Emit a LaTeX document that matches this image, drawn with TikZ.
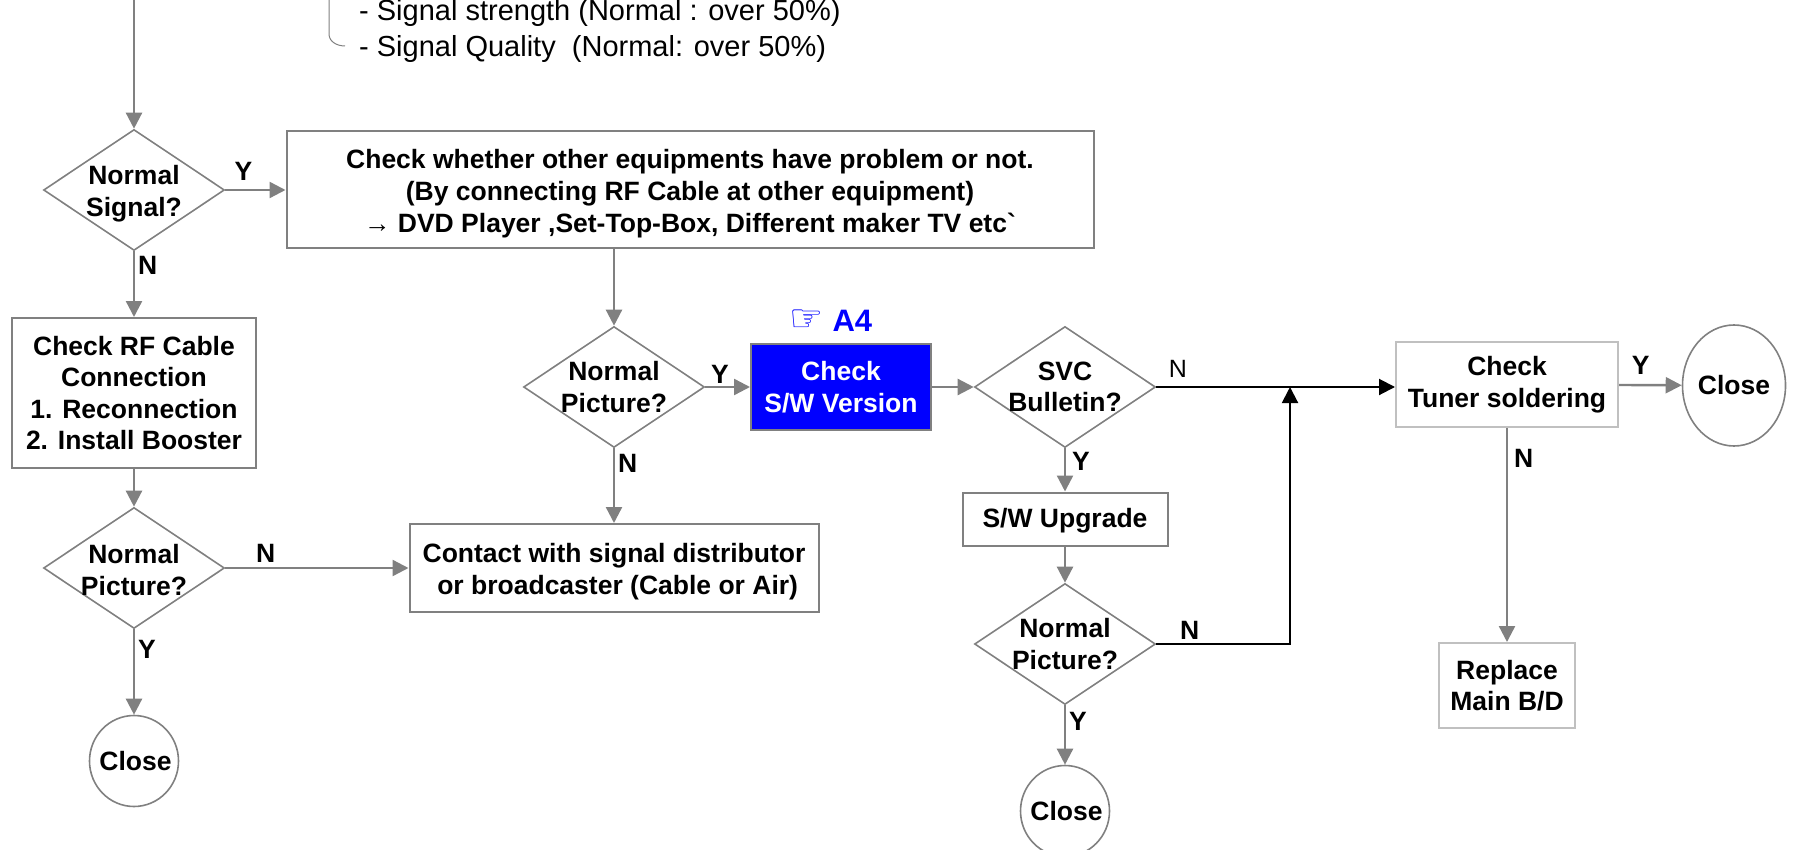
\documentclass[tikz,border=0pt]{standalone}
\usepackage{fontspec}
\setmainfont{Liberation Sans}
\newfontfamily\symfont{DejaVu Sans}
\newfontfamily\rawfont{Liberation Sans}
\usetikzlibrary{arrows.meta, positioning, shapes.geometric}
\definecolor{linegray}{HTML}{808080}
\definecolor{palegray}{HTML}{C0C0C0}
\definecolor{swblue}{HTML}{0000FF}
\newcommand{\dropby}[1]{\rule{0pt}{#1pt}}
\tikzset{>={Triangle[length=16pt,width=16pt]},x=1pt,y=1pt,
  every node/.style={font=\fontsize{26.5}{31.5}\selectfont\bfseries,align=center,inner sep=0pt},
  plaintext/.style={font=\fontsize{29}{36}\selectfont},
  flow/.style={draw=linegray,line width=2.4pt},
  blackflow/.style={draw=black,line width=2pt},
  proc/.style={rectangle,draw=linegray,line width=2pt,fill=white},
  paleproc/.style={proc,draw=palegray},
  decide/.style={diamond,draw=linegray,line width=1.6pt,minimum width=181pt,minimum height=121pt,aspect=1.5,inner sep=-10pt},
  closing/.style={ellipse,draw=linegray,line width=1.6pt,inner sep=-8pt},
  lab/.style={fill=none,inner sep=3pt}}

\begin{document}
\begin{tikzpicture}
\useasboundingbox (0,0) rectangle (1806,-850);
\node[decide] (sigdec) at (134,-190) {\dropby{26.5}Normal\\Signal?};
\node[proc, minimum width=807pt, minimum height=117pt, right of=sigdec, node distance=556pt] (equip) {\dropby{26.5}Check whether other equipments have problem or not.\\(By connecting RF Cable at other equipment)\\→ DVD Player ,Set-Top-Box, Different maker TV etc{\rawfont\bfseries `}};
\node[proc, minimum width=244pt, minimum height=150pt, below of=sigdec, node distance=203pt] (rfbox) {Check RF Cable\\Connection\\1. Reconnection\\2. Install Booster};
\node[decide, below of=rfbox, node distance=175pt] (picl) {\dropby{23}Normal\\Picture?};
\node[closing, minimum width=89pt, minimum height=91pt, below of=picl, node distance=193pt] (closel) {\kern3pt Close};
\node[proc, minimum width=409pt, minimum height=88pt, right of=picl, node distance=480pt] (contact) {\dropby{26.5}Contact with signal distributor\\\ or broadcaster (Cable or Air)};
\node[decide, above of=contact, node distance=181pt] (picm) {Normal\\Picture?};
\node[proc, fill=swblue, text=white, minimum width=180pt, minimum height=86pt, right of=picm, node distance=227pt] (swbox) {Check\\S/W Version};
\node[text=swblue, font=\fontsize{31}{36}\selectfont\bfseries, above of=swbox, xshift=-10pt, node distance=66pt] (aref) {{\symfont\fontsize{38}{36}\selectfont ☞} A4};
\node[decide, right of=swbox, node distance=224pt] (svc) {SVC\\Bulletin?};
\node[proc, minimum width=205pt, minimum height=53pt, below of=svc, node distance=132pt] (upgrade) {\dropby{23}S/W Upgrade};
\node[decide, below of=upgrade, node distance=125pt] (picr) {Normal\\Picture?};
\node[closing, minimum width=89pt, minimum height=91pt, below of=picr, node distance=167pt] (closeb) {\kern3pt Close};
\node[paleproc, minimum width=222pt, minimum height=85pt, right of=svc, node distance=442pt, yshift=2.5pt] (tuner) {Check\\Tuner soldering};
\node[closing, minimum width=103pt, minimum height=121pt, right of=tuner, node distance=227pt, yshift=-1pt] (closer) {Close};
\node[paleproc, minimum width=136pt, minimum height=85pt, below of=tuner, node distance=301pt] (replace) {Replace\\Main B/D};
\node[plaintext, anchor=west] (strength) at (359,-13) {- Signal strength (Normal : over 50\%)};
\node[plaintext, anchor=west] (quality) at (359,-49) {- Signal Quality \ (Normal: over 50\%)};
\coordinate (start) at (134,0);
\coordinate (brtop) at (329,0);
\coordinate (brend) at (345,-46);
\coordinate[right of=svc, node distance=225pt] (joint);
% grey connectors
\draw[flow,->] (start) -- (sigdec);
\draw[flow,->] (sigdec) -- node[lab, above, pos=.3, yshift=5pt] {Y} (equip);
\draw[flow,->] (sigdec) -- node[lab, right, pos=.22] {N} (rfbox);
\draw[flow,->] (rfbox) -- (picl);
\draw[flow,->] (picl) -- node[lab, above, pos=.22, yshift=1pt] {N} (contact);
\draw[flow,->] (picl) -- node[lab, right, pos=.24] {Y} (closel);
\draw[flow,->] (equip.south -| picm) -- (picm);
\draw[flow,->] (picm) -- node[lab, above, pos=.33, yshift=-1pt] {Y} (swbox);
\draw[flow,->] (picm) -- node[lab, right, pos=.2] {N} (contact);
\draw[flow,->] (swbox) -- (svc);
\draw[flow,->] (svc) -- node[lab, right, pos=.3, xshift=3pt] {Y} (upgrade);
\draw[flow,->] (upgrade) -- (picr);
\draw[flow,->] (picr) -- node[lab, right, pos=.27] {Y} (closeb);
\draw[flow,->] (tuner) -- node[lab, above, pos=.3, xshift=3pt, yshift=6pt] {Y} (closer);
\draw[flow,->] (tuner) -- node[lab, right, pos=.14, xshift=3pt] {N} (replace);
% black connectors
\draw[blackflow,->] (svc) -- node[lab, above, pos=.09, yshift=5.5pt, plaintext, font=\fontsize{25}{31.5}\selectfont] {N} (tuner.west |- svc);
\draw[blackflow,->] (picr) -- node[lab, above, pos=.25, yshift=1pt] {N} (joint |- picr) -- (joint);
% bracket beside the signal list
\draw[draw=linegray,line width=1pt] (brtop) -- ++(0,-34) to[out=-90,in=180] (brend);
\end{tikzpicture}
\end{document}
